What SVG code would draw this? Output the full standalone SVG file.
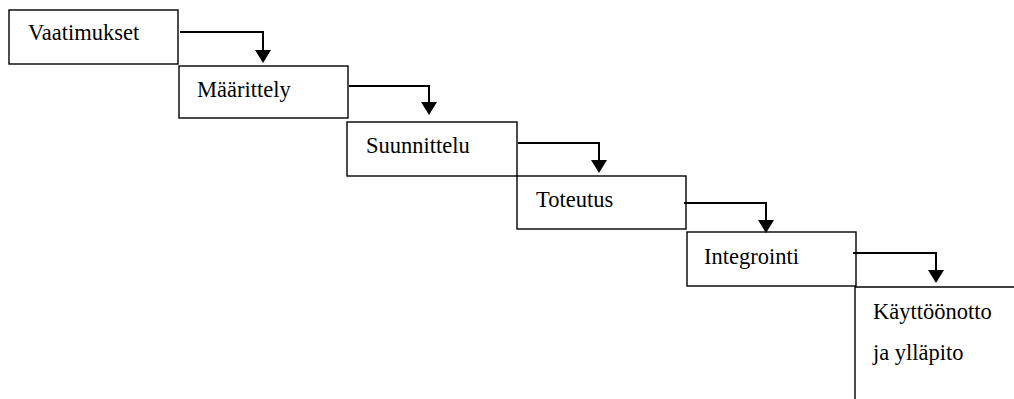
<svg xmlns="http://www.w3.org/2000/svg" width="1014" height="399" viewBox="0 0 1014 399">
<defs>
<style>
.box{fill:none;stroke:#000;stroke-width:1.4}
.lbl{font-size:22.5px;fill:#000}
.con{fill:none;stroke:#000;stroke-width:2}
</style>
<marker id="ah" markerWidth="16" markerHeight="13" refX="8" refY="8" orient="0" markerUnits="userSpaceOnUse" viewBox="0 0 16 13">
<polygon points="0,0 16,0 8,13" fill="#000"/>
</marker>
</defs>
<rect width="1014" height="399" fill="#fff"/>
<g font-family="'Times New Roman', 'Liberation Serif', 'DejaVu Serif', serif">
<g id="n1"><rect class="box" x="9" y="10" width="169" height="54"/><text class="lbl" x="28" y="40">Vaatimukset</text></g>
<g id="n2"><rect class="box" x="179" y="66" width="169" height="52"/><text class="lbl" x="197" y="97">Määrittely</text></g>
<g id="n3"><rect class="box" x="347" y="122" width="170" height="54"/><text class="lbl" x="366" y="153">Suunnittelu</text></g>
<g id="n4"><rect class="box" x="517" y="176" width="169" height="53"/><text class="lbl" x="536" y="207">Toteutus</text></g>
<g id="n5"><rect class="box" x="687" y="232" width="169" height="54"/><text class="lbl" x="704" y="264">Integrointi</text></g>
<g id="n6"><path class="box" d="M1015,287 H855 V400"/><text class="lbl" x="873" y="319">Käyttöönotto</text><text class="lbl" x="873" y="360">ja ylläpito</text></g>
</g>
<g id="connectors">
<path class="con" d="M180,32 H263 V58" marker-end="url(#ah)"/>
<path class="con" d="M349,86 H429 V110" marker-end="url(#ah)"/>
<path class="con" d="M518,143 H599 V168" marker-end="url(#ah)"/>
<path class="con" d="M684,203 H766 V228" marker-end="url(#ah)"/>
<path class="con" d="M853,253 H936 V278" marker-end="url(#ah)"/>
</g>
</svg>
